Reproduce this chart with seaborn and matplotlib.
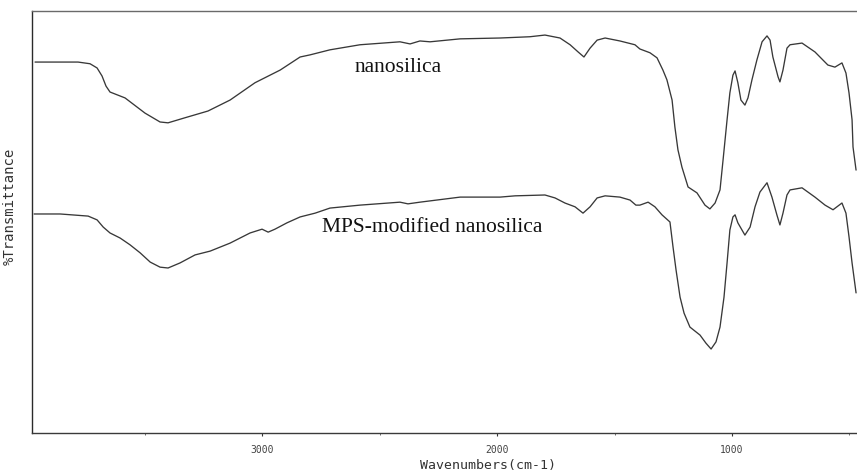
import numpy as np
import pandas as pd
import matplotlib
matplotlib.use("Agg")
import matplotlib.pyplot as plt
from matplotlib.ticker import MultipleLocator
import seaborn as sns

# FTIR spectrum of unmodified nanosilica (wavenumber cm-1, %T)
wn_silica = [3966, 3859, 3783, 3732, 3702, 3681, 3664, 3647, 3583, 3498, 3434, 3400,
             3328, 3230, 3136, 3030, 2923, 2838, 2796, 2711, 2583, 2413, 2370, 2328,
             2285, 2157, 1987, 1860, 1796, 1732, 1689, 1655, 1630, 1604, 1574, 1540,
             1477, 1413, 1392, 1349, 1319, 1294, 1277, 1255, 1243, 1230, 1213, 1187,
             1149, 1115, 1094, 1072, 1051, 1038, 1021, 1009, 996, 987, 975, 962, 945,
             932, 915, 894, 872, 851, 838, 826, 804, 796, 783, 766, 753, 702, 647, 592,
             562, 532, 515, 502, 489, 485, 472]
t_silica = [87.9, 87.9, 87.9, 87.5, 86.5, 84.6, 82.2, 80.8, 79.4, 75.8, 73.7, 73.5,
            74.7, 76.3, 78.9, 83.0, 86.0, 89.1, 89.6, 90.8, 92.0, 92.7, 92.2, 92.9,
            92.7, 93.4, 93.6, 93.9, 94.3, 93.6, 92.0, 90.3, 89.1, 91.2, 93.1, 93.6,
            92.9, 92.0, 91.0, 90.1, 88.9, 86.0, 83.7, 78.9, 72.5, 67.1, 63.0, 58.3,
            56.9, 54.0, 53.1, 54.5, 57.6, 64.7, 74.2, 80.6, 84.8, 85.8, 83.0, 78.9, 77.7,
            79.4, 83.7, 88.4, 92.7, 94.1, 93.1, 89.1, 84.4, 83.2, 86.0, 91.2, 92.0, 92.4,
            90.3, 87.2, 86.7, 87.7, 85.3, 80.6, 74.2, 67.8, 62.3]

# FTIR spectrum of MPS-modified nanosilica
wn_mps = [3970, 3859, 3740, 3702, 3676, 3647, 3604, 3562, 3519, 3476, 3434, 3400,
          3349, 3285, 3221, 3136, 3051, 3000, 2974, 2945, 2894, 2838, 2774, 2732,
          2711, 2583, 2413, 2379, 2328, 2157, 1987, 1923, 1796, 1753, 1711, 1668,
          1634, 1604, 1574, 1540, 1477, 1434, 1409, 1392, 1357, 1328, 1298, 1264,
          1251, 1238, 1221, 1204, 1179, 1136, 1111, 1089, 1068, 1051, 1034, 1021,
          1009, 996, 987, 975, 945, 923, 902, 881, 851, 830, 809, 796, 783, 766, 753,
          702, 647, 604, 570, 532, 515, 502, 489, 472]
t_mps = [51.9, 51.9, 51.4, 50.5, 48.8, 47.4, 46.2, 44.6, 42.7, 40.5, 39.3, 39.1,
         40.3, 42.2, 43.1, 45.0, 47.4, 48.3, 47.6, 48.3, 49.8, 51.2, 52.1, 52.9,
         53.3, 54.0, 54.7, 54.3, 54.7, 55.9, 55.9, 56.2, 56.4, 55.7, 54.5, 53.6,
         52.1, 53.6, 55.7, 56.2, 55.9, 55.2, 54.0, 54.0, 54.7, 53.6, 51.7, 50.0,
         44.1, 38.6, 32.2, 28.4, 25.1, 23.2, 21.3, 19.9, 21.6, 25.1, 32.2, 40.3,
         48.1, 51.2, 51.7, 49.8, 46.9, 48.8, 53.6, 57.1, 59.3, 55.9, 51.7, 49.3, 52.1,
         56.4, 57.6, 58.1, 55.9, 54.0, 52.9, 54.5, 52.1, 46.5, 40.3, 33.2]

tick_values = [3000, 2000, 1000]
tick_labels = ["3000", "2000", "1000"]

sns.set_style("white")
plt.rcParams["font.family"] = ["DejaVu Sans Mono", "DejaVu Sans"]

fig = plt.figure(figsize=(8.57, 4.71), dpi=100)
ax = fig.add_axes([32 / 857, 38 / 471, 825 / 857, 422 / 471])

line_color = "#383838"
sns.lineplot(x=wn_silica, y=t_silica, ax=ax, color=line_color, lw=0.95,
             sort=False, estimator=None)
sns.lineplot(x=wn_mps, y=t_mps, ax=ax, color=line_color, lw=0.95,
             sort=False, estimator=None)

ax.set_xlim(3979, 468)
ax.set_ylim(0, 100)
ax.set_yticks([])
ax.set_xticks(tick_values)
ax.set_xticklabels(tick_labels, fontsize=7, color="#444444")
ax.xaxis.set_minor_locator(MultipleLocator(500))
ax.tick_params(axis="x", which="major", direction="out", length=2.5, width=0.8,
               pad=6, color="#333333", bottom=True)
ax.tick_params(axis="x", which="minor", direction="out", length=1.5, width=0.6,
               color="#555555", bottom=True)

for side, col in [("left", "#2a2a2a"), ("bottom", "#3a3a3a"), ("top", "#6a6a6a")]:
    ax.spines[side].set_visible(True)
    ax.spines[side].set_color(col)
    ax.spines[side].set_linewidth(1.0)
ax.spines["right"].set_visible(False)

ax.set_xlabel("")
ax.set_ylabel("")
fig.text(488 / 857, 1 - 465 / 471, "Wavenumbers(cm-1)", ha="center", va="center",
         fontsize=9.5, color="#333333")
fig.text(10 / 857, 1 - 206 / 471, "%Transmittance", ha="center", va="center",
         rotation=90, fontsize=10, color="#333333")

ax.text(2421, 86.7, "nanosilica", ha="center", va="center",
        family="Liberation Serif", fontsize=15.5, color="#111111")
ax.text(2277, 48.6, "MPS-modified nanosilica", ha="center", va="center",
        family="Liberation Serif", fontsize=15.5, color="#111111")

fig.savefig("out.png", dpi=100)
